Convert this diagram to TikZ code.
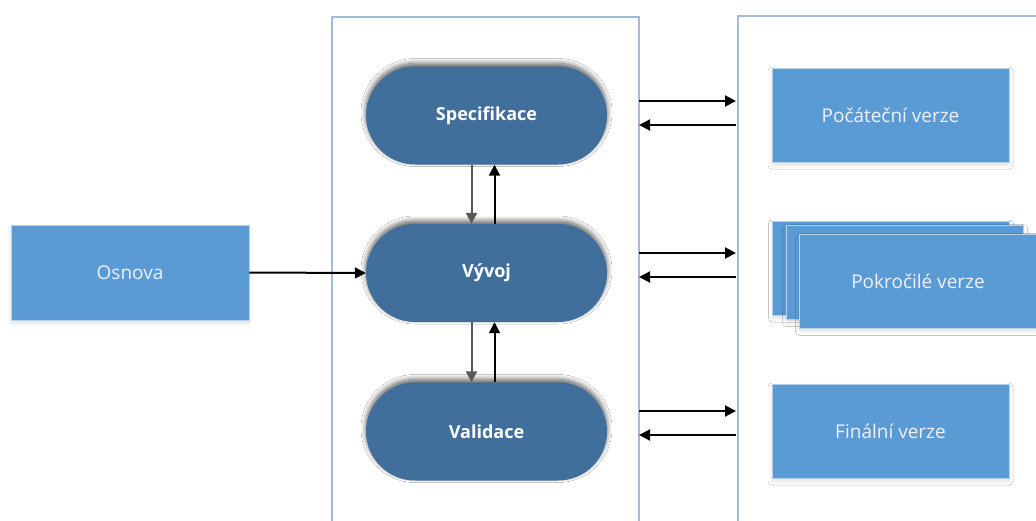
\documentclass[tikz,border=0pt]{standalone}
\usepackage{fontspec}
\setmainfont{Open Sans}
\usetikzlibrary{arrows.meta,shadows.blur,calc}
\definecolor{pillblue}{HTML}{416F9C}
\definecolor{boxblue}{HTML}{5B9BD5}
\definecolor{frameblue}{HTML}{A3BADB}
\definecolor{boxedge}{HTML}{B9D0EA}
\tikzset{
  frame/.style={draw=frameblue, line width=2pt, fill=white, rectangle, inner sep=0pt, anchor=north west},
  pill/.style={rectangle, rounded corners=49pt, fill=pillblue, minimum width=241pt, minimum height=98pt,
    text=white, font=\fontsize{18}{20}\selectfont\bfseries,
    blur shadow={shadow xshift=0pt, shadow yshift=3pt, shadow blur radius=5pt, shadow blur steps=10, shadow opacity=65}},
  vbox/.style={rectangle, fill=boxblue, draw=boxedge, line width=0.8pt, minimum width=237pt, minimum height=94pt,
    text=white!94!blue, font=\fontsize{19}{21}\selectfont,
    blur shadow={shadow xshift=0pt, shadow yshift=-3pt, shadow blur radius=4pt, shadow opacity=12}},
  flow/.style={line width=2pt, draw=black, -{Triangle[length=11pt,width=11pt]}},
  flowg/.style={flow, draw=black!65}
}
\begin{document}
\begin{tikzpicture}[x=1pt, y=-1pt]
  \useasboundingbox (0,0) rectangle (1036,520);
  \clip (0,0) rectangle (1036,520);

  % the two column frames, running off the bottom
  \node[frame, minimum width=307pt, minimum height=540pt] (lc) at (331,16) {};
  \node[frame, minimum width=340pt, minimum height=540pt] (rc) at (737,15) {};

  % source box
  \node[vbox, minimum width=238pt, minimum height=95pt] (osnova) at (130,272.5) {Osnova};

  % process steps
  \node[pill] (spec)  at (486.5,115.5) {Specifikace};
  \node[pill] (vyvoj) at (486.5,273)   {Vývoj};
  \node[pill] (valid) at (486.5,431.5) {Validace};

  % versions
  \node[vbox] (pocat) at (890.5,115) {Počáteční verze};
  \node[vbox] (adv3) at (891,268) {};
  \node[vbox] (adv2) at (905,272.5) {};
  \node[vbox] (adv1) at (918,281.5) {Pokročilé verze};
  \node[vbox] (final) at (890.5,431) {Finální verze};

  % input into development
  \draw[flow] (osnova.east) -- (vyvoj.west);

  % loops between steps
  \draw[flowg] ([xshift=-15pt]spec.south) -- ([xshift=-15pt]vyvoj.north);
  \draw[flow]  ([xshift=8pt]vyvoj.north) -- ([xshift=8pt]spec.south);
  \draw[flowg] ([xshift=-15pt]vyvoj.south) -- ([xshift=-15pt]valid.north);
  \draw[flow]  ([xshift=8pt]valid.north) -- ([xshift=8pt]vyvoj.south);

  % exchanges between the frames
  \coordinate (a1) at (639,101); \coordinate (b1) at (736,101);
  \coordinate (a2) at (639,125); \coordinate (b2) at (736,125);
  \coordinate (a3) at (639,253); \coordinate (b3) at (736,253);
  \coordinate (a4) at (639,277); \coordinate (b4) at (736,277);
  \coordinate (a5) at (639,411); \coordinate (b5) at (736,411);
  \coordinate (a6) at (639,435); \coordinate (b6) at (736,435);
  \draw[flow] (a1) -- (b1);
  \draw[flow] (b2) -- (a2);
  \draw[flow] (a3) -- (b3);
  \draw[flow] (b4) -- (a4);
  \draw[flow] (a5) -- (b5);
  \draw[flow] (b6) -- (a6);
\end{tikzpicture}
\end{document}
